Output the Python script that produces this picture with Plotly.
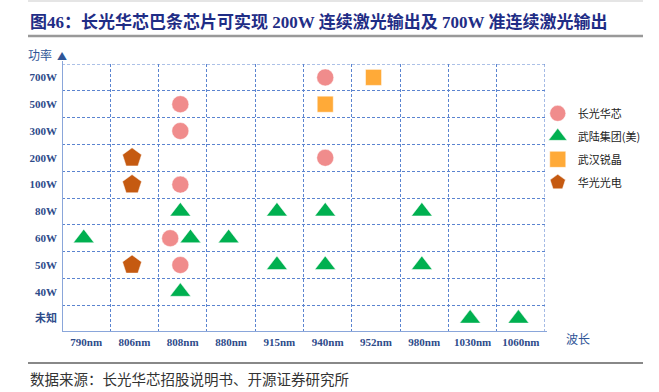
import plotly.graph_objects as go

wavelengths = ["790nm", "806nm", "808nm", "880nm", "915nm", "940nm", "952nm", "980nm", "1030nm", "1060nm"]
powers = ["未知", "40W", "50W", "60W", "80W", "100W", "200W", "300W", "500W", "700W"]

cghx_wl = ["808nm", "808nm", "808nm", "808nm", "808nm", "940nm", "940nm"]
cghx_pw = ["500W", "300W", "100W", "60W", "50W", "700W", "200W"]

wl_grp_wl = ["790nm", "808nm", "808nm", "808nm", "880nm", "915nm", "915nm", "940nm", "940nm", "980nm", "980nm", "1030nm", "1060nm"]
wl_grp_pw = ["60W", "80W", "60W", "40W", "60W", "80W", "50W", "80W", "50W", "80W", "50W", "未知", "未知"]

whrj_wl = ["940nm", "952nm"]
whrj_pw = ["500W", "700W"]

hggd_wl = ["806nm", "806nm", "806nm"]
hggd_pw = ["200W", "100W", "50W"]

series = [
    ("长光华芯", cghx_wl, cghx_pw, dict(symbol="circle", size=17, color="#F08C8C")),
    ("武陆集团(美)", wl_grp_wl, wl_grp_pw, dict(symbol="triangle-up", size=18, color="#00B050")),
    ("武汉锐晶", whrj_wl, whrj_pw, dict(symbol="square", size=16, color="#FFAA38")),
    ("华光光电", hggd_wl, hggd_pw, dict(symbol="pentagon", size=20, color="#C55A11")),
]

# dodge markers from different series that share a cell
cell_count = {}
for _, wls, pws, _m in series:
    for w, p in zip(wls, pws):
        cell_count[(w, p)] = cell_count.get((w, p), 0) + 1
cell_seen = {}

fig = go.Figure()
for gi, (name, wls, pws, m) in enumerate(series):
    xs, ys = [], []
    for w, p in zip(wls, pws):
        n = cell_count[(w, p)]
        k = cell_seen.get((w, p), 0)
        cell_seen[(w, p)] = k + 1
        off = 0 if n == 1 else (k - (n - 1) / 2) * 0.42
        xs.append(wavelengths.index(w) + off - 0.05)
        ys.append(powers.index(p))
    fig.add_trace(go.Scatter(
        x=xs, y=ys, mode="markers", name=name, legendgroup=name,
        marker=dict(symbol=m["symbol"], size=m["size"], color=m["color"],
                    line=dict(color="rgba(255,255,255,0.6)", width=0.8)),
        hoverinfo="skip",
    ))

tick_col = "#2E4B8A"
grid_col = "#5B84D0"
axis_col = "#8AA6DA"
nx, ny = len(wavelengths), len(powers)

fig.update_xaxes(
    range=[-0.5, nx - 0.5], tickmode="array", tickvals=list(range(nx)), ticktext=wavelengths,
    showgrid=False, zeroline=False, showline=False,
    ticks="", ticklabelstandoff=2,
    tickfont=dict(family="Liberation Serif", size=11, color=tick_col, weight="bold"),
    minor=dict(tickmode="array", tickvals=[i + 0.5 for i in range(nx - 1)],
               showgrid=True, gridcolor=grid_col, gridwidth=1.1, griddash="3px,2px", ticks=""),
    fixedrange=True,
)
fig.update_yaxes(
    range=[-0.5, ny - 0.5], tickmode="array", tickvals=list(range(ny)), ticktext=powers,
    showgrid=False, zeroline=False, showline=False,
    ticks="", ticklabelstandoff=4,
    tickfont=dict(family="Liberation Serif, Noto Sans CJK SC", size=11, color=tick_col, weight="bold"),
    minor=dict(tickmode="array", tickvals=[i + 0.5 for i in range(ny - 1)],
               showgrid=True, gridcolor=grid_col, gridwidth=1.1, griddash="3px,2px", ticks=""),
    fixedrange=True,
)

# top and right borders of the grid (dashed, like the inner grid)
fig.add_shape(type="line", xref="x", yref="y", x0=-0.5, x1=nx - 0.5, y0=ny - 0.5, y1=ny - 0.5,
              line=dict(color=grid_col, width=1.1, dash="3px,2px"), layer="below")
fig.add_shape(type="line", xref="x", yref="y", x0=nx - 0.5, x1=nx - 0.5, y0=-0.5, y1=ny - 0.5,
              line=dict(color=grid_col, width=1.1, dash="3px,2px"), layer="below")
# solid axis lines
fig.add_shape(type="line", xref="x", yref="paper", x0=-0.5, x1=-0.5, y0=0, y1=1 + 3 / 268,
              line=dict(color=axis_col, width=2))
fig.add_shape(type="line", xref="paper", yref="y", x0=0, x1=1 + 2 / 483, y0=-0.5, y1=-0.5,
              line=dict(color=axis_col, width=2))

fig.add_annotation(x=-0.5, xref="x", y=1.0, yref="paper", text="▲", showarrow=False,
                   yanchor="bottom", yshift=-1, font=dict(size=10, color="#2F5597"))
fig.add_annotation(x=-0.5, xref="x", y=1.0, yref="paper", text="功率", showarrow=False,
                   xanchor="right", yanchor="bottom", xshift=-8, yshift=-1,
                   font=dict(family="Noto Sans CJK SC", size=12, color="#2F5597"))
fig.add_annotation(x=nx - 0.5, xref="x", y=0, yref="paper", text="波长", showarrow=False,
                   xanchor="left", yanchor="top", xshift=19, yshift=4,
                   font=dict(family="Noto Sans CJK SC", size=12, color="#2F5597"))

fig.update_layout(
    width=659, height=392,
    margin=dict(l=62, r=114, t=64, b=60),
    paper_bgcolor="white", plot_bgcolor="white",
    font=dict(family="Noto Sans CJK SC"),
    title=dict(text="图46：长光华芯巴条芯片可实现 200W 连续激光输出及 700W 准连续激光输出",
               x=30 / 659, xanchor="left", y=1 - 22 / 392, yanchor="middle",
               font=dict(family="Liberation Serif, Noto Sans CJK SC", size=17, color="#1F2D86", weight="bold")),
    legend=dict(x=0.985, xanchor="left", y=0.87, yanchor="top", tracegroupgap=4,
                font=dict(family="Noto Sans CJK SC", size=11, color="#222222"),
                itemwidth=30, bgcolor="rgba(0,0,0,0)"),
    showlegend=True,
)

fig.add_shape(type="line", xref="paper", yref="paper",
              x0=-34 / 483, x1=581 / 483, y0=1 + 28 / 268, y1=1 + 28 / 268,
              line=dict(color="#999999", width=2.5))
fig.add_shape(type="line", xref="paper", yref="paper",
              x0=-34 / 483, x1=581 / 483, y0=1 + 63 / 268, y1=1 + 63 / 268,
              line=dict(color="#DDDDDD", width=1.5))
fig.add_shape(type="line", xref="paper", yref="paper",
              x0=-34 / 483, x1=581 / 483, y0=-31 / 268, y1=-31 / 268,
              line=dict(color="#888888", width=2))
fig.add_annotation(x=-34 / 483, xref="paper", y=-46 / 268, yref="paper", showarrow=False,
                   text="数据来源：长光华芯招股说明书、开源证券研究所", xanchor="left", yanchor="middle",
                   font=dict(family="Noto Sans CJK SC", size=14.5, color="#333333"))

fig.write_html("out.html")
